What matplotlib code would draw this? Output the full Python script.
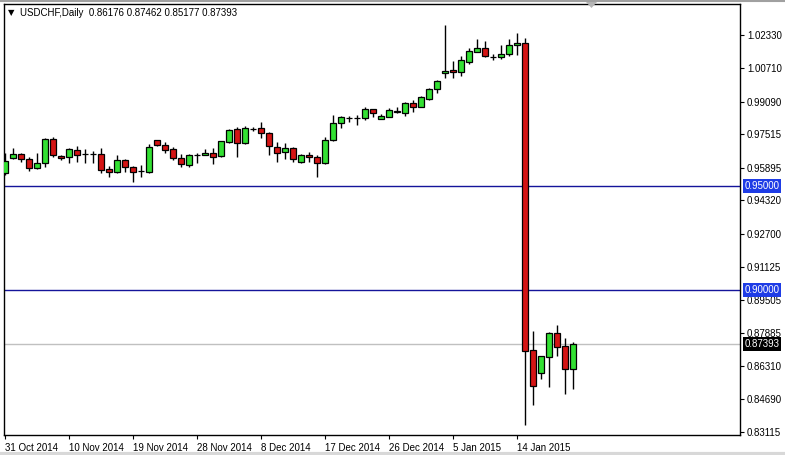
import numpy as np
import matplotlib
matplotlib.use("Agg")
import matplotlib.pyplot as plt
from matplotlib.patches import Polygon

plt.rcParams['font.family'] = ['Liberation Sans', 'DejaVu Sans']

# daily USDCHF candles, 31 Oct 2014 .. 22 Jan 2015 (one entry per bar)
opens = [0.9565, 0.9638, 0.9657, 0.9633, 0.9589, 0.9614, 0.9730, 0.9645, 0.9643, 0.9676,
         0.9657, 0.9656, 0.9657, 0.9584, 0.9570, 0.9628, 0.9594, 0.9574, 0.9570, 0.9725,
         0.9701, 0.9681, 0.9638, 0.9604, 0.9652, 0.9652, 0.9662, 0.9647, 0.9715, 0.9778,
         0.9710, 0.9779, 0.9783, 0.9759, 0.9691, 0.9667, 0.9686, 0.9618, 0.9652, 0.9643,
         0.9614, 0.9725, 0.9807, 0.9831, 0.9832, 0.9831, 0.9875, 0.9826, 0.9836, 0.9865,
         0.9855, 0.9904, 0.9885, 0.9923, 0.9972, 1.0049, 1.0064, 1.0054, 1.0102, 1.0151,
         1.0170, 1.0128, 1.0127, 1.0141, 1.0185, 1.0194, 0.8708, 0.8597, 0.8674, 0.8790,
         0.8728, 0.86176]
highs = [0.9662, 0.9686, 0.9662, 0.9643, 0.9662, 0.9734, 0.9739, 0.9652, 0.9686, 0.9696,
         0.9681, 0.9672, 0.9686, 0.9599, 0.9652, 0.9633, 0.9599, 0.9604, 0.9705, 0.9727,
         0.9715, 0.9691, 0.9657, 0.9657, 0.9662, 0.9681, 0.9686, 0.9720, 0.9778, 0.9788,
         0.9793, 0.9788, 0.9812, 0.9764, 0.9715, 0.9710, 0.9691, 0.9657, 0.9667, 0.9652,
         0.9739, 0.9846, 0.9841, 0.9841, 0.9846, 0.9885, 0.9877, 0.9851, 0.9880, 0.9885,
         0.9909, 0.9918, 0.9938, 0.9976, 1.0015, 1.0281, 1.0107, 1.0131, 1.0170, 1.0214,
         1.0204, 1.0141, 1.0185, 1.0214, 1.0243, 1.0218, 0.8800, 0.8679, 0.8795, 0.8829,
         0.8766, 0.87462]
lows = [0.9555, 0.9633, 0.9618, 0.9575, 0.9584, 0.9594, 0.9643, 0.9628, 0.9614, 0.9618,
        0.9614, 0.9614, 0.9565, 0.9546, 0.9565, 0.9570, 0.9521, 0.9546, 0.9565, 0.9696,
        0.9662, 0.9628, 0.9594, 0.9594, 0.9614, 0.9652, 0.9609, 0.9643, 0.9710, 0.9643,
        0.9705, 0.9768, 0.9734, 0.9652, 0.9618, 0.9633, 0.9618, 0.9614, 0.9618, 0.9546,
        0.9609, 0.9720, 0.9783, 0.9812, 0.9797, 0.9822, 0.9836, 0.9826, 0.9836, 0.9855,
        0.9841, 0.9860, 0.9885, 0.9918, 0.9952, 1.0025, 1.0025, 1.0035, 1.0093, 1.0151,
        1.0127, 1.0112, 1.0117, 1.0131, 1.0136, 0.8345, 0.8442, 0.8568, 0.8529, 0.8679,
        0.8495, 0.85177]
closes = [0.9623, 0.9657, 0.9633, 0.9589, 0.9614, 0.9730, 0.9652, 0.9640, 0.9681, 0.9652,
          0.9656, 0.9657, 0.9580, 0.9570, 0.9628, 0.9594, 0.9570, 0.9575, 0.9691, 0.9701,
          0.9676, 0.9638, 0.9609, 0.9652, 0.9653, 0.9662, 0.9643, 0.9720, 0.9773, 0.9710,
          0.9783, 0.9778, 0.9759, 0.9696, 0.9662, 0.9686, 0.9633, 0.9652, 0.9643, 0.9614,
          0.9725, 0.9807, 0.9836, 0.9832, 0.9831, 0.9875, 0.9855, 0.9841, 0.9870, 0.9860,
          0.9904, 0.9885, 0.9933, 0.9972, 1.0010, 1.0059, 1.0054, 1.0112, 1.0156, 1.0170,
          1.0131, 1.0127, 1.0141, 1.0185, 1.0194, 0.8704, 0.8534, 0.8679, 0.8790, 0.8723,
          0.8616, 0.87393]

date_labels = ['31 Oct 2014', '10 Nov 2014', '19 Nov 2014', '28 Nov 2014', '8 Dec 2014',
               '17 Dec 2014', '26 Dec 2014', '5 Jan 2015', '14 Jan 2015']
date_bars = [0, 8, 16, 24, 32, 40, 48, 56, 64]

price_ticks = [1.02330, 1.00710, 0.99090, 0.97515, 0.95895, 0.94320, 0.92700,
               0.91125, 0.89505, 0.87885, 0.86310, 0.84690, 0.83115]
levels = [0.95000, 0.90000]
last_price = 0.87393

W, H = 785, 455
fig = plt.figure(figsize=(W / 100, H / 100), dpi=100)
fig.patch.set_facecolor('white')
ax = fig.add_axes([4 / W, 1 - 435 / H, 736 / W, 431 / H])
ax.set_facecolor('white')

x = np.arange(len(opens))
o = np.array(opens); c = np.array(closes)
up = c >= o
cols = np.where(up, '#33e033', '#d41414')

ax.vlines(x, lows, highs, color='black', linewidth=1.0, zorder=2)
ax.bar(x, np.maximum(np.abs(c - o), 1e-6), bottom=np.minimum(o, c), width=0.72,
       color=cols, edgecolor='black', linewidth=0.9, zorder=3)

# horizontal lines
for lv in levels:
    ax.axhline(lv, color='#14149a', linewidth=1.0, zorder=1)
ax.axhline(last_price, color='#c0c0c0', linewidth=1.0, zorder=1)

ax.set_xlim(-0.125, 91.875)
ax.set_ylim(0.8297, 1.0383)

ax.yaxis.tick_right()
ax.set_yticks(price_ticks)
ax.set_yticklabels([f'{p:.5f}' for p in price_ticks])
ax.tick_params(axis='y', direction='out', length=3, width=0.8, pad=2,
               labelsize=7, colors='black')
ax.set_xticks(date_bars)
ax.set_xticklabels(date_labels, ha='left')
ax.tick_params(axis='x', direction='out', length=3, width=0.8, pad=2.5,
               labelsize=7, colors='black')
for sp in ax.spines.values():
    sp.set_linewidth(1.0)
    sp.set_color('black')

# price boxes on the right scale
for lv in levels:
    ax.annotate(f'{lv:.5f}', xy=(1.0, lv), xycoords=('axes fraction', 'data'),
                xytext=(3.2, 0), textcoords='offset points', va='center', ha='left',
                fontsize=7, color='white', annotation_clip=False,
                bbox=dict(boxstyle='square,pad=0.2', fc='#1e3ce6', ec='none'))
ax.annotate(f'{last_price:.5f}', xy=(1.0, last_price), xycoords=('axes fraction', 'data'),
            xytext=(3.2, 0), textcoords='offset points', va='center', ha='left',
            fontsize=7, color='white', annotation_clip=False,
            bbox=dict(boxstyle='square,pad=0.2', fc='black', ec='none'))

# header text
fig.text(8 / W, 1 - 13 / H, '\u25bc', fontsize=6, va='center', ha='left',
         family=['DejaVu Sans'])
fig.text(20 / W, 1 - 13 / H,
         'USDCHF,Daily  0.86176 0.87462 0.85177 0.87393',
         fontsize=7, va='center', ha='left')

# chart shift marker
fig.patches.append(Polygon([[586 / W, 1 - 2 / H], [597 / W, 1 - 2 / H], [591.5 / W, 1 - 8 / H]],
                           closed=True, transform=fig.transFigure, fc='#b4b4b4', ec='none'))
# window edges
fig.add_artist(plt.Line2D([0, 1], [1 - 0.5 / H, 1 - 0.5 / H], transform=fig.transFigure,
                          color='#a0a0a0', linewidth=1.5))
fig.add_artist(plt.Line2D([0, 1], [1.5 / H, 1.5 / H], transform=fig.transFigure,
                          color='#d8d8d8', linewidth=3))

fig.savefig('out.png', dpi=100, facecolor='white')
